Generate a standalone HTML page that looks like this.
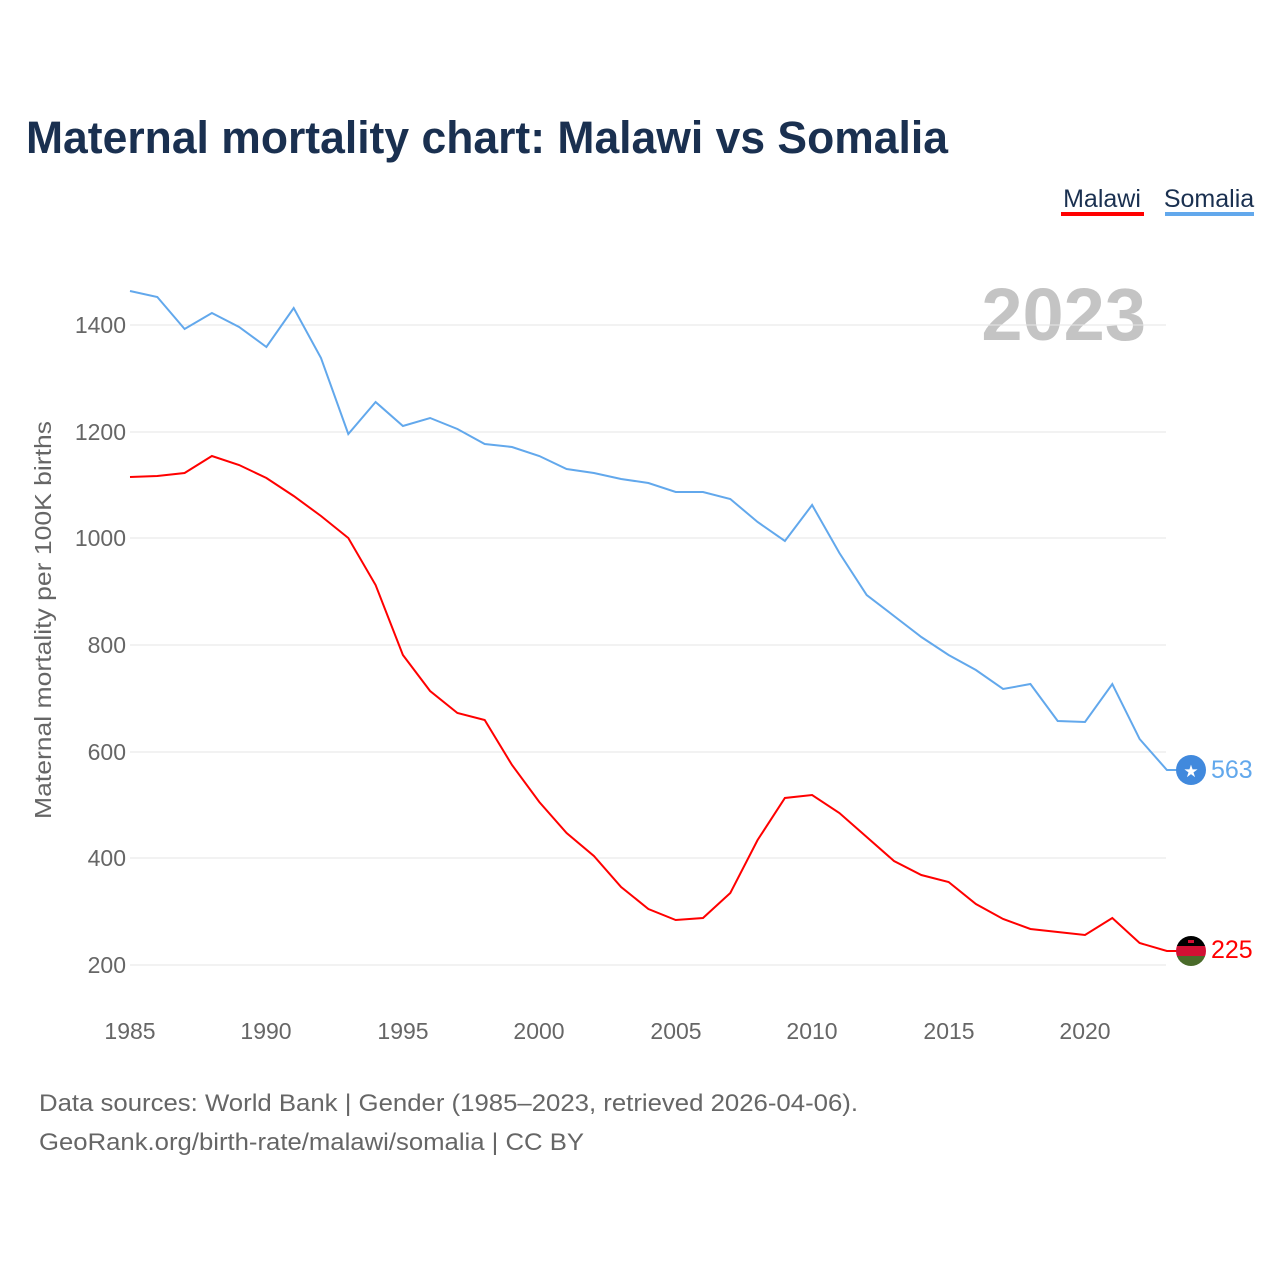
<!DOCTYPE html>
<html><head><meta charset="utf-8"><style>
body{margin:0;background:#fff;}
svg{display:block;font-family:"Liberation Sans",sans-serif;}
</style></head><body>
<svg width="1280" height="1280" viewBox="0 0 1280 1280">
<rect width="1280" height="1280" fill="#fff"/>
<text x="26" y="153" font-size="45" font-weight="bold" fill="#1a3050" textLength="922" lengthAdjust="spacingAndGlyphs">Maternal mortality chart: Malawi vs Somalia</text>
<text x="1102" y="207" font-size="25" fill="#1a3050" text-anchor="middle">Malawi</text>
<rect x="1061" y="212" width="83" height="4" fill="#ff0000"/>
<text x="1209" y="207" font-size="25" fill="#1a3050" text-anchor="middle">Somalia</text>
<rect x="1165" y="212" width="89" height="4" fill="#62a8ec"/>
<text x="1146" y="340" font-size="74" font-weight="bold" fill="#c4c4c4" text-anchor="end">2023</text>
<g stroke="#e6e6e6" stroke-width="1">
<line x1="130" x2="1166" y1="325" y2="325"/><line x1="130" x2="1166" y1="432" y2="432"/>
<line x1="130" x2="1166" y1="538" y2="538"/><line x1="130" x2="1166" y1="645" y2="645"/>
<line x1="130" x2="1166" y1="752" y2="752"/><line x1="130" x2="1166" y1="858" y2="858"/>
<line x1="130" x2="1166" y1="965" y2="965"/>
</g>
<g font-size="23" fill="#666" text-anchor="end">
<text x="126" y="333">1400</text><text x="126" y="440">1200</text><text x="126" y="546">1000</text>
<text x="126" y="653">800</text><text x="126" y="760">600</text><text x="126" y="866">400</text><text x="126" y="973">200</text>
</g>
<g font-size="23" fill="#666" text-anchor="middle">
<text x="130" y="1039">1985</text><text x="266" y="1039">1990</text><text x="403" y="1039">1995</text>
<text x="539" y="1039">2000</text><text x="676" y="1039">2005</text><text x="812" y="1039">2010</text>
<text x="949" y="1039">2015</text><text x="1085" y="1039">2020</text>
</g>
<text transform="translate(51,620) rotate(-90)" font-size="23" fill="#666" text-anchor="middle" textLength="398" lengthAdjust="spacingAndGlyphs">Maternal mortality per 100K births</text>
<polyline fill="none" stroke="#62a8ec" stroke-width="2" points="130,291 157.3,297 184.6,329 211.9,313 239.1,327 266.4,347 293.7,308 321,358 348.3,434 375.6,402 402.9,426 430.1,418 457.4,429 484.7,444 512,447 539.3,456 566.6,469 593.9,473 621.1,479 648.4,483 675.7,492 703,492 730.3,499 757.6,522 784.9,541 812.1,505 839.4,553 866.7,595 894,616 921.3,637 948.6,655 975.9,670 1003.1,689 1030.4,684 1057.7,721 1085,722 1112.3,684 1139.6,739 1166.9,770 1177,770"/>
<polyline fill="none" stroke="#ff0000" stroke-width="2" points="130,477 157.3,476 184.6,473 211.9,456 239.1,465 266.4,478 293.7,496 321,516 348.3,538 375.6,585 402.9,655 430.1,691 457.4,713 484.7,720 512,765 539.3,802 566.6,833 593.9,856 621.1,887 648.4,909 675.7,920 703,918 730.3,893 757.6,840 784.9,798 812.1,795 839.4,813 866.7,837 894,861 921.3,875 948.6,882 975.9,904 1003.1,919 1030.4,929 1057.7,932 1085,935 1112.3,918 1139.6,943 1166.9,951 1177,951"/>
<circle cx="1191" cy="770" r="15" fill="#4189dd"/>
<text x="1191" y="777" font-size="17" fill="#fff" text-anchor="middle">★</text>
<defs><clipPath id="c"><circle cx="1191" cy="951" r="15"/></clipPath></defs>
<g clip-path="url(#c)">
<rect x="1176" y="936" width="30" height="10" fill="#000"/>
<rect x="1176" y="946" width="30" height="10" fill="#d21034"/>
<rect x="1176" y="956" width="30" height="10" fill="#4a6b2a"/>
<rect x="1188" y="940" width="6" height="3" fill="#d21034"/>
</g>
<text x="1211" y="778" font-size="25" fill="#62a8ec">563</text>
<text x="1211" y="958" font-size="25" fill="#ff0000">225</text>
<text x="39" y="1111" font-size="24" fill="#666" textLength="819" lengthAdjust="spacingAndGlyphs">Data sources: World Bank | Gender (1985–2023, retrieved 2026-04-06).</text>
<text x="39" y="1150" font-size="24" fill="#666" textLength="545" lengthAdjust="spacingAndGlyphs">GeoRank.org/birth-rate/malawi/somalia | CC BY</text>
</svg>
</body></html>
